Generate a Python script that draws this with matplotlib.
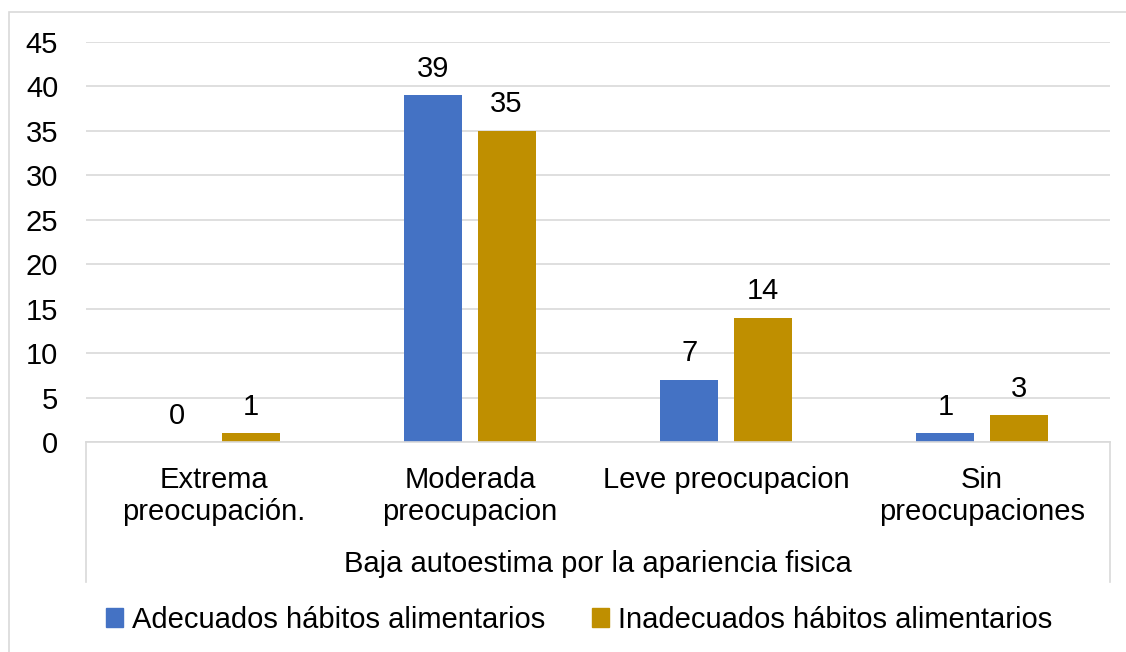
import matplotlib.pyplot as plt
import numpy as np
from matplotlib.patches import Rectangle, Patch

plt.rcParams['font.family'] = ['Liberation Sans', 'DejaVu Sans']

categorias = ['Extrema\npreocupación.', 'Moderada\npreocupacion',
              'Leve preocupacion', 'Sin\npreocupaciones']
adecuados = [0, 39, 7, 1]
inadecuados = [1, 35, 14, 3]
series = ['Adecuados hábitos alimentarios', 'Inadecuados hábitos alimentarios']
azul = '#4472C4'
dorado = '#BF8F00'
fs = 21

W, H = 1126, 652
fig = plt.figure(figsize=(W / 100, H / 100), dpi=100)

# marco gris claro del gráfico
fig.patches.append(Rectangle((9 / W, -0.1), 1.2, 1 - 12 / H + 0.1,
                             transform=fig.transFigure, fill=False,
                             edgecolor='#D9D9D9', lw=1.2))

ax = fig.add_axes([86 / W, 210 / H, 1024 / W, 400 / H])

x = np.arange(len(categorias))
w = 0.227
b1 = ax.bar(x - 0.143, adecuados, w, color=azul)
b2 = ax.bar(x + 0.143, inadecuados, w, color=dorado)
ax.bar_label(b1, padding=9, fontsize=fs)
ax.bar_label(b2, padding=9, fontsize=fs)

ax.set_xlim(-0.5, 3.5)
ax.set_ylim(0, 45)
ax.set_yticks(np.arange(0, 46, 5))
ax.yaxis.grid(True, color='#D9D9D9', lw=1.2)
ax.set_axisbelow(True)
for s in ['top', 'right', 'left']:
    ax.spines[s].set_visible(False)
ax.spines['bottom'].set_color('#D9D9D9')
ax.spines['bottom'].set_linewidth(1.2)

ax.set_xticks(x)
ax.set_xticklabels(categorias, fontsize=fs, linespacing=1.2)
ax.tick_params(axis='x', length=0, pad=17)
ax.tick_params(axis='y', length=0, pad=20, labelsize=fs)

# líneas verticales del eje de categorías
for xe in (0, 1):
    ax.plot([xe, xe], [0, -0.35], transform=ax.transAxes, color='#D9D9D9',
            lw=1.2, clip_on=False)

fig.text(598 / W, 1 - 564 / H, 'Baja autoestima por la apariencia fisica',
         ha='center', va='center', fontsize=fs)

handles = [Patch(color=azul), Patch(color=dorado)]
fig.legend(handles, series, loc='center', bbox_to_anchor=(579 / W, 1 - 620 / H),
           ncol=2, frameon=False, fontsize=fs, handlelength=0.6,
           handleheight=0.6, handletextpad=0.3, columnspacing=1.6)

fig.savefig('out.png', dpi=100)
